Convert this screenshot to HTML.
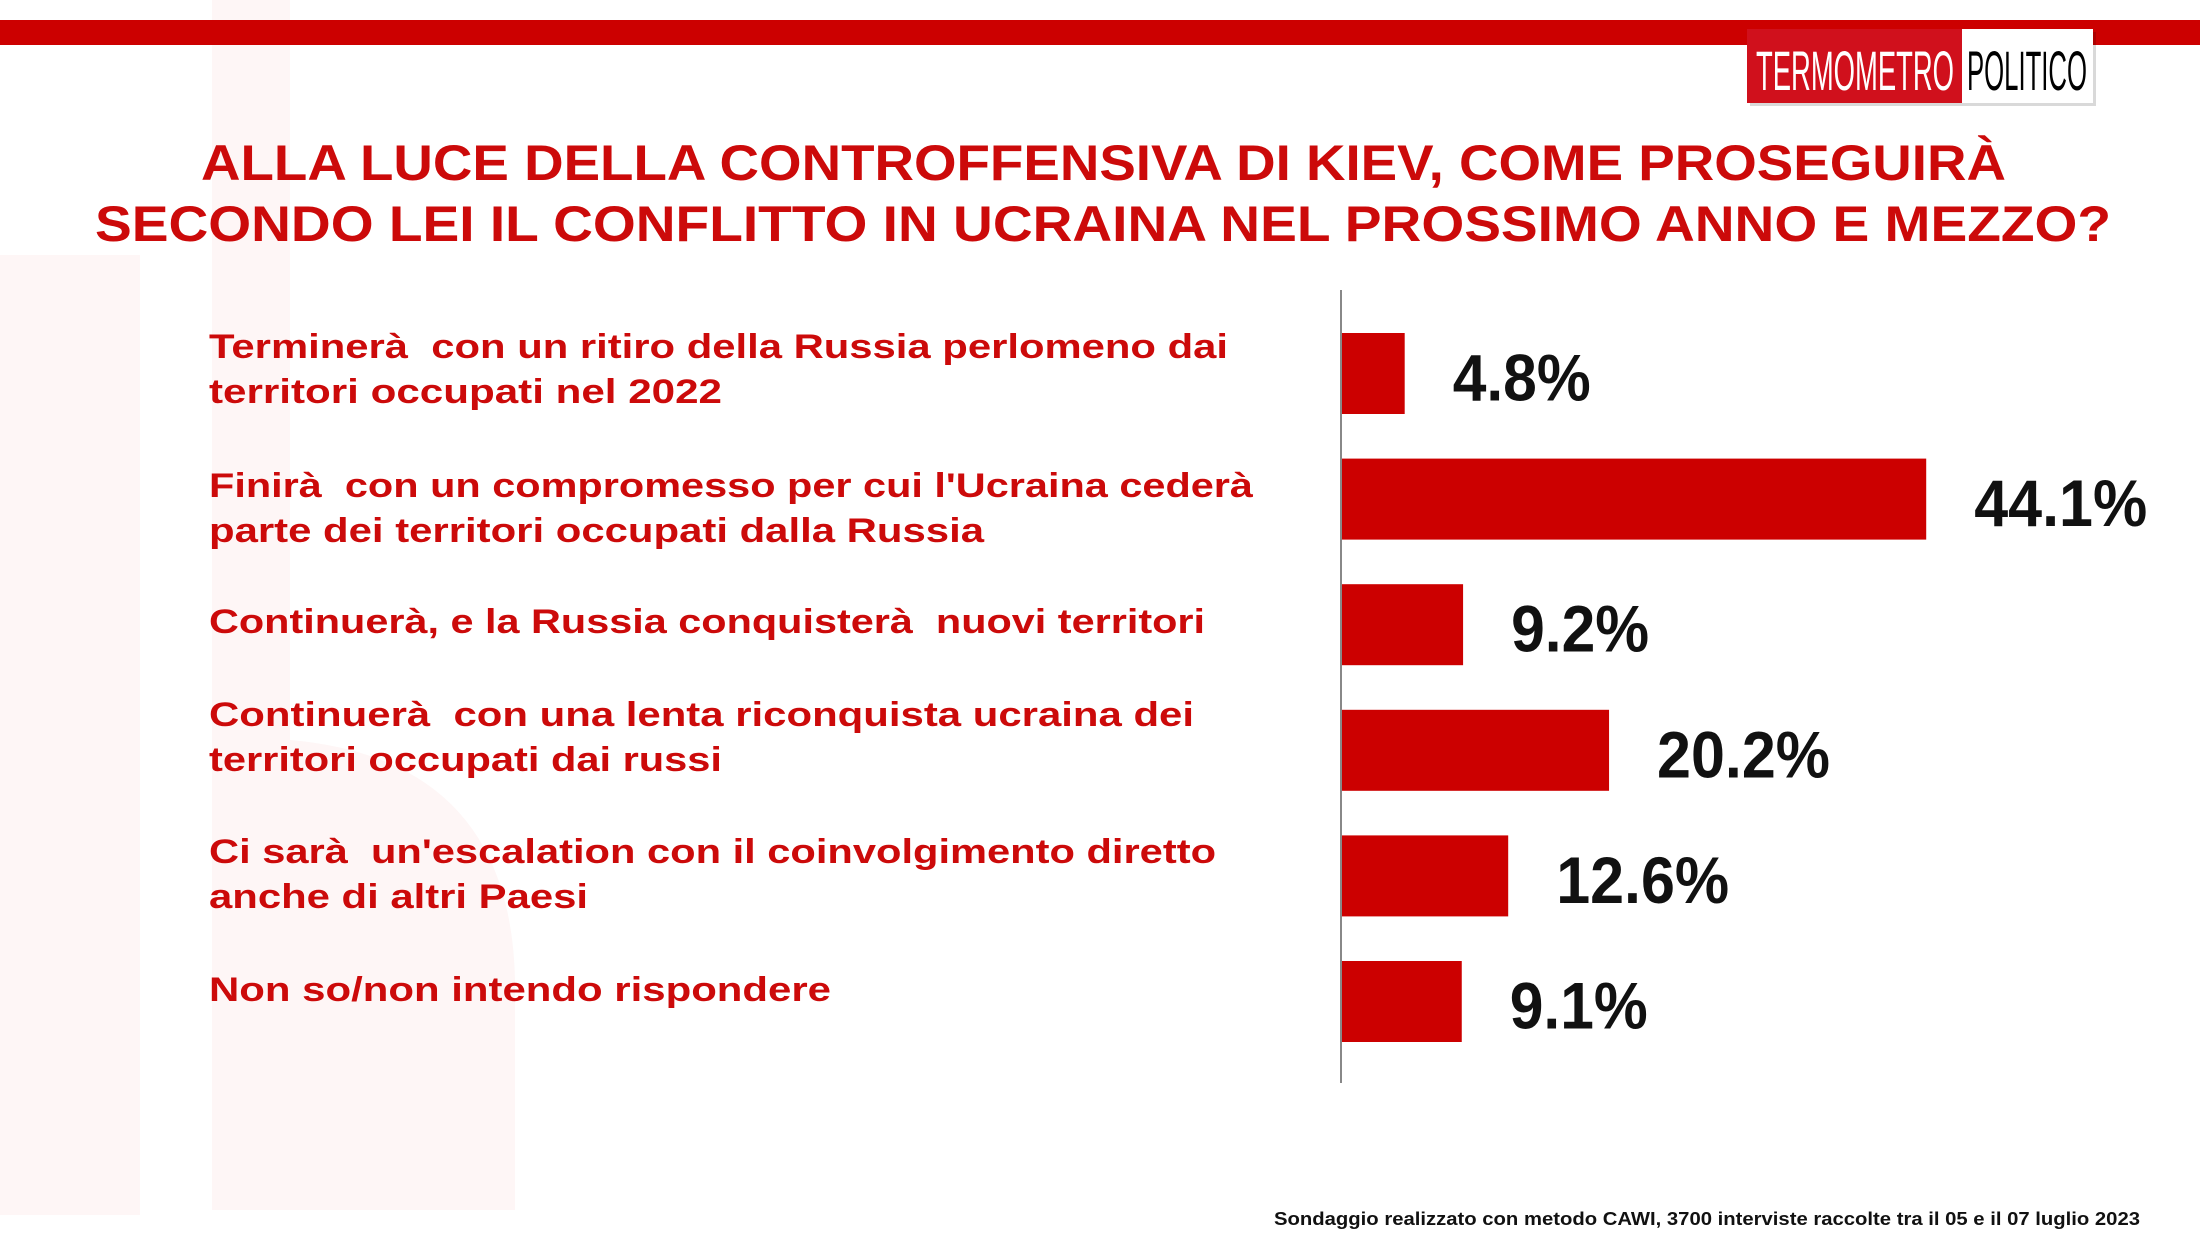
<!DOCTYPE html>
<html><head><meta charset="utf-8"><style>
html,body{margin:0;padding:0;background:#fff;}
svg{display:block;}
</style></head><body>
<svg id="chart" width="2200" height="1238" viewBox="0 0 2200 1238" xmlns="http://www.w3.org/2000/svg" font-family="'Liberation Sans', sans-serif">
  <g fill="#fef6f6">
    <rect x="0" y="255" width="140" height="960"/>
    <rect x="212" y="0" width="78" height="1210"/>
    <path d="M290 740 Q520 760 515 1000 L515 1210 L290 1210 Z"/>
  </g>
  <rect x="0" y="20" width="2200" height="25" fill="#cc0000"/>
  <g>
    <rect x="1750" y="32" width="346" height="74" fill="#000" opacity="0.15"/>
    <rect x="1747" y="29" width="215" height="74" fill="#d0101c"/>
    <rect x="1962" y="29" width="131" height="74" fill="#fff"/>
    <text x="1756" y="90" font-size="56" fill="#fff" textLength="198" lengthAdjust="spacingAndGlyphs">TERMOMETRO</text>
    <text x="1967" y="90" font-size="56" fill="#000" textLength="120" lengthAdjust="spacingAndGlyphs">POLITICO</text>
  </g>
  <g fill="#cc0a0a" font-weight="bold" font-size="50">
    <text x="201" y="180" textLength="1805" lengthAdjust="spacingAndGlyphs">ALLA LUCE DELLA CONTROFFENSIVA DI KIEV, COME PROSEGUIRÀ</text>
    <text x="95" y="241" textLength="2016" lengthAdjust="spacingAndGlyphs">SECONDO LEI IL CONFLITTO IN UCRAINA NEL PROSSIMO ANNO E MEZZO?</text>
  </g>
  <line x1="1341" y1="290" x2="1341" y2="1083" stroke="#888" stroke-width="2"/>
  <g id="labels"></g>
  <g id="bars"></g>
  <g id="values"></g>
  <text x="1274" y="1225" font-size="18" font-weight="bold" fill="#111" textLength="866" lengthAdjust="spacingAndGlyphs">Sondaggio realizzato con metodo CAWI, 3700 interviste raccolte tra il 05 e il 07 luglio 2023</text>
</svg>
<script>
const categories = [
  ["Terminerà  con un ritiro della Russia perlomeno dai", "territori occupati nel 2022"],
  ["Finirà  con un compromesso per cui l'Ucraina cederà", "parte dei territori occupati dalla Russia"],
  ["Continuerà, e la Russia conquisterà  nuovi territori"],
  ["Continuerà  con una lenta riconquista ucraina dei", "territori occupati dai russi"],
  ["Ci sarà  un'escalation con il coinvolgimento diretto", "anche di altri Paesi"],
  ["Non so/non intendo rispondere"]
];
const values = [4.8, 44.1, 9.2, 20.2, 12.6, 9.1];
const valueLabels = ["4.8%", "44.1%", "9.2%", "20.2%", "12.6%", "9.1%"];

const NS = "http://www.w3.org/2000/svg";
/* layout (not data) */
const labelWidths = [[1019, 513], [1044, 775], [996], [985, 513], [1007, 379], [622]];
const labelBaselinesLayout = [358, 497, 633, 726, 863, 1001];
const x0 = 1341, pxPerPct = 13.27;
function xScale(v){ return x0 + v * pxPerPct; }
function yCenter(i){ return 373.5 + i * 125.6; }
const barH = 81;

const gL = document.getElementById('labels');
const gB = document.getElementById('bars');
const gV = document.getElementById('values');

categories.forEach((lines, i) => {
  const cy = yCenter(i);
  const t = document.createElementNS(NS, 'text');
  
  
  t.setAttribute('fill', '#cc0a0a');
  t.setAttribute('font-weight', 'bold');
  t.setAttribute('font-size', '34');
  t.style.whiteSpace = 'pre';
  lines.forEach((ln, j) => {
    const s = document.createElementNS(NS, 'tspan');
    s.setAttribute('x', 209);
    s.setAttribute('y', labelBaselinesLayout[i] + j * 45);
    s.setAttribute('textLength', labelWidths[i][j]);
    s.setAttribute('lengthAdjust', 'spacingAndGlyphs');
    s.textContent = ln;
    t.appendChild(s);
  });
  gL.appendChild(t);

  const r = document.createElementNS(NS, 'rect');
  
  
  r.setAttribute('x', x0 + 1);
  r.setAttribute('y', cy - barH / 2);
  r.setAttribute('width', Math.max(0, xScale(values[i]) - x0 - 1));
  r.setAttribute('height', barH);
  r.setAttribute('fill', '#cc0000');
  gB.appendChild(r);

  const v = document.createElementNS(NS, 'text');
  
  
  v.setAttribute('x', xScale(values[i]) + 48);
  v.setAttribute('y', cy + 27);
  v.setAttribute('font-size', '66');
  v.setAttribute('font-weight', 'bold');
  v.setAttribute('fill', '#111');
  v.setAttribute('textLength', valueLabels[i].length * 35 - 2);
  v.setAttribute('lengthAdjust', 'spacingAndGlyphs');
  v.textContent = valueLabels[i];
  gV.appendChild(v);
});
</script>
</body></html>
